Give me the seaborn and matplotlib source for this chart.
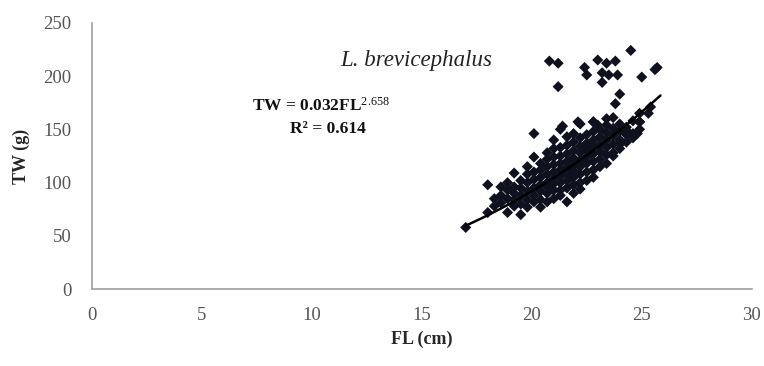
import numpy as np
import pandas as pd
import matplotlib
matplotlib.use("Agg")
import matplotlib.pyplot as plt
import seaborn as sns

# ---- data ----
fl_outliers = [20.8, 21.2, 21.2, 20.1, 24.5, 23.0, 23.4, 23.8, 22.4, 22.5, 23.2, 23.5,
               23.9, 23.2, 25.0, 25.6, 25.7, 24.0, 23.8, 25.4, 25.3, 22.1, 22.8, 23.0,
               23.7, 21.4, 24.3, 24.8, 24.9, 24.1]
tw_outliers = [214, 212, 190, 146, 224, 215, 212, 214, 208, 201, 203, 201,
               201, 194, 199, 206, 208, 183, 174, 171, 165, 157, 157, 154,
               161, 153, 149, 146, 157, 138]

fl_cluster = [17.0, 18.0, 18.0, 18.3, 18.3, 18.6, 18.6, 18.6,
              18.9, 18.9, 18.9, 18.9, 19.2, 19.2, 19.2, 19.2, 19.2,
              19.5, 19.5, 19.5, 19.5, 19.5,
              19.8, 19.8, 19.8, 19.8, 19.8, 19.8,
              20.1, 20.1, 20.1, 20.1, 20.1, 20.1,
              20.4, 20.4, 20.4, 20.4, 20.4, 20.4, 20.4,
              20.7, 20.7, 20.7, 20.7, 20.7, 20.7, 20.7, 20.7,
              21.0, 21.0, 21.0, 21.0, 21.0, 21.0, 21.0, 21.0, 21.0,
              21.3, 21.3, 21.3, 21.3, 21.3, 21.3, 21.3, 21.3, 21.3,
              21.6, 21.6, 21.6, 21.6, 21.6, 21.6, 21.6, 21.6, 21.6,
              21.9, 21.9, 21.9, 21.9, 21.9, 21.9, 21.9, 21.9, 21.9,
              22.2, 22.2, 22.2, 22.2, 22.2, 22.2, 22.2, 22.2, 22.2,
              22.5, 22.5, 22.5, 22.5, 22.5, 22.5, 22.5,
              22.8, 22.8, 22.8, 22.8, 22.8, 22.8, 22.8, 22.8,
              23.1, 23.1, 23.1, 23.1, 23.1, 23.1,
              23.4, 23.4, 23.4, 23.4, 23.4, 23.4, 23.4,
              23.7, 23.7, 23.7, 23.7, 23.7,
              24.0, 24.0, 24.0, 24.0, 24.0,
              24.3, 24.3, 24.3, 24.3,
              24.6, 24.6, 24.6,
              24.9, 24.9, 24.9]
tw_cluster = [58, 98, 72, 85, 78, 96, 81, 88,
              93, 72, 85, 100, 109, 90, 78, 84, 96,
              70, 88, 95, 102, 80,
              84, 77, 92, 100, 108, 115,
              124, 88, 95, 103, 110, 82,
              77, 84, 92, 98, 105, 112, 118,
              82, 90, 96, 100, 108, 115, 122, 128,
              85, 93, 99, 104, 110, 117, 124, 132, 140,
              93, 88, 100, 106, 112, 118, 125, 133, 150,
              82, 95, 102, 108, 114, 120, 127, 135, 143,
              90, 98, 105, 111, 117, 123, 130, 138, 146,
              100, 94, 108, 115, 121, 128, 134, 142, 155,
              102, 110, 118, 124, 131, 137, 145,
              112, 105, 120, 127, 134, 140, 148, 157,
              115, 122, 129, 136, 143, 150,
              118, 126, 133, 140, 147, 154, 160,
              128, 125, 136, 144, 151,
              137, 132, 140, 148, 155,
              149, 138, 145, 152,
              146, 142, 158,
              157, 150, 165]

# power trend line reported on the chart: TW = a * FL^b
coef_a = 0.032
coef_b = 2.658
fit_range = [17.0, 25.85]

x_ticks = [0, 5, 10, 15, 20, 25, 30]
y_ticks = [0, 50, 100, 150, 200, 250]

df = pd.DataFrame({"FL": fl_outliers + fl_cluster, "TW": tw_outliers + tw_cluster})
fx = np.linspace(fit_range[0], fit_range[1], 100)
fit = pd.DataFrame({"FL": fx, "TW": coef_a * fx ** coef_b})

# ---- plotting ----
sns.set_style("white")
plt.rcParams["font.family"] = ["Liberation Serif", "DejaVu Serif"]
plt.rcParams["mathtext.fontset"] = "custom"
plt.rcParams["mathtext.rm"] = "Liberation Serif"
plt.rcParams["mathtext.bf"] = "Liberation Serif:bold"
plt.rcParams["mathtext.it"] = "Liberation Serif:italic"

fig = plt.figure(figsize=(7.64, 3.66), dpi=100)
ax = fig.add_axes([0.120, 0.2096, 0.864, 0.7284])

sns.scatterplot(data=df, x="FL", y="TW", ax=ax, marker="D", s=32,
                color="#10111f", edgecolor="none", linewidth=0, zorder=3)
sns.lineplot(data=fit, x="FL", y="TW", ax=ax, color="black", linewidth=1.8,
             zorder=4, estimator=None, sort=True)

ax.set_xlim(0, 30)
ax.set_ylim(0, 250)
ax.set_xticks(x_ticks)
ax.set_yticks(y_ticks)
ax.set_xticklabels([str(v) for v in x_ticks])
ax.set_yticklabels([str(v) for v in y_ticks])

for s in ["top", "right"]:
    ax.spines[s].set_visible(False)
for s in ["left", "bottom"]:
    ax.spines[s].set_color("#a0a0a0")
    ax.spines[s].set_linewidth(1.2)

ax.tick_params(axis="both", direction="inout", length=5, width=1, color="#a0a0a0",
               labelsize=13.5, labelcolor="#555555")
ax.tick_params(axis="x", pad=10)
ax.tick_params(axis="y", pad=12)

ax.set_xlabel("FL (cm)", fontsize=13, fontweight="bold", labelpad=5)
ax.set_ylabel("TW (g)", fontsize=13, fontweight="bold", labelpad=10)

ax.text(14.75, 215, "L. brevicephalus", fontsize=16.5, style="italic",
        ha="center", va="center", color="#222222")
ax.text(7.3, 172, r"TW = 0.032FL$^{\mathrm{2.658}}$", fontsize=12.5, fontweight="bold",
        ha="left", va="center", color="#111111")
ax.text(9.0, 150, "R² = 0.614", fontsize=12.5, fontweight="bold",
        ha="left", va="center", color="#111111")

fig.savefig("out.png", dpi=100)
